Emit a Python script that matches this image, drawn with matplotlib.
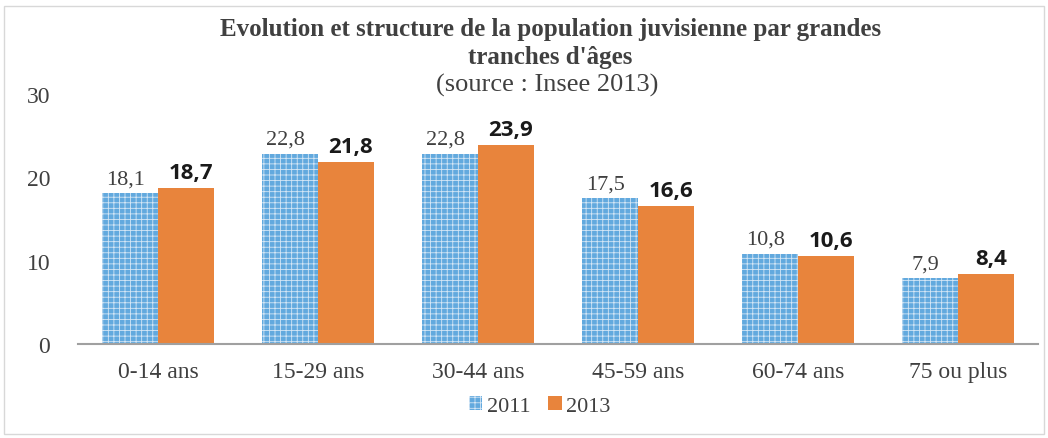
import matplotlib.pyplot as plt
import numpy as np
from matplotlib.patches import Rectangle

categories = ["0-14 ans", "15-29 ans", "30-44 ans", "45-59 ans", "60-74 ans", "75 ou plus"]
pop_2011 = [18.1, 22.8, 22.8, 17.5, 10.8, 7.9]
pop_2013 = [18.7, 21.8, 23.9, 16.6, 10.6, 8.4]
yticks = [0, 10, 20, 30]

serif = "Liberation Serif"
plt.rcParams['hatch.linewidth'] = 0.6

fig = plt.figure(figsize=(10.48, 4.39), dpi=100)
ax = fig.add_axes([0.0744, 0.214, 0.916, 0.570])

x = np.arange(len(categories))
w = 0.35
b1 = ax.bar(x - w / 2, pop_2011, w, color="#62a9de", edgecolor="#d4e6f5",
            hatch="+++", linewidth=0, label="2011")
b2 = ax.bar(x + w / 2, pop_2013, w, color="#e8843c", linewidth=0, label="2013")

for xi, v in zip(x, pop_2011):
    ax.text(xi - w / 2 - 0.03, v + 0.6, f"{v:.1f}".replace(".", ","), ha="center",
            va="bottom", fontsize=16, family=serif, color="#404040")
for xi, v in zip(x, pop_2013):
    ax.text(xi + w / 2 + 0.03, v + 0.6, f"{v:.1f}".replace(".", ","), ha="center",
            va="bottom", fontsize=16, family="Open Sans", fontweight="bold",
            color="#1a1a1a")

ax.set_xlim(-0.5, len(categories) - 0.5)
ax.set_ylim(0, 30)
ax.set_yticks(yticks)
ax.set_yticklabels([str(t) for t in yticks], fontsize=17, family=serif, color="#404040")
ax.set_xticks(x)
ax.set_xticklabels(categories, fontsize=17, family=serif, color="#404040")
ax.tick_params(length=0, pad=12)
ax.tick_params(axis="y", pad=20)
for s in ["top", "right", "left"]:
    ax.spines[s].set_visible(False)
ax.spines["bottom"].set_color("#a0a0a0")
ax.spines["bottom"].set_linewidth(1.5)
ax.spines["bottom"].set_linestyle((0, (1, 1)))

fig.text(0.525, 0.932, "Evolution et structure de la population juvisienne par grandes",
         ha="center", va="center", fontsize=18, family=serif, fontweight="bold",
         color="#404040")
fig.text(0.525, 0.870, "tranches d'âges", ha="center", va="center", fontsize=18,
         family=serif, fontweight="bold", color="#404040")
fig.text(0.522, 0.806, "(source : Insee 2013)", ha="center", va="center", fontsize=19,
         family=serif, color="#404040")

fig.legend(handles=[b1, b2], loc="center", bbox_to_anchor=(0.515, 0.073), ncol=2,
           frameon=False, prop={"family": serif, "size": 16}, handlelength=0.6,
           handleheight=0.6, handletextpad=0.2, columnspacing=0.8, labelcolor="#404040")

fig.patches.append(Rectangle((0.004, 0.01), 0.992, 0.975, transform=fig.transFigure,
                             fill=False, edgecolor="#d8d8d8", linewidth=1))

plt.savefig("out.png", dpi=100)
